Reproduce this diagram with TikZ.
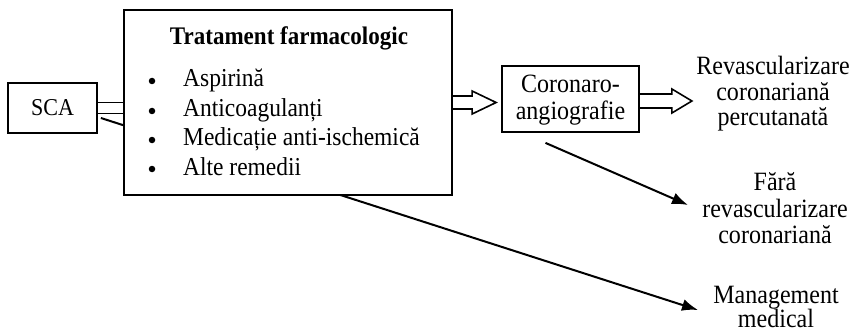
\documentclass[tikz,border=0pt]{standalone}
\usepackage{fontspec}
\setmainfont{Liberation Serif}[FakeStretch=0.91]
\usetikzlibrary{arrows.meta,calc}
\newcommand\hollowarrow[5]{%
  \path let \p1=(#1), \p2=(#2) in
    [draw, line width=1.6pt, line join=miter]
    (\x1,\y1+#3pt) -- (\x2-#4pt,\y1+#3pt) -- (\x2-#4pt,\y1+#5pt) -- (\x2,\y1)
    -- (\x2-#4pt,\y1-#5pt) -- (\x2-#4pt,\y1-#3pt) -- (\x1,\y1-#3pt);%
}
\begin{document}
\begin{tikzpicture}[x=1pt,y=-1pt,
  box/.style={draw, line width=1.8pt, inner sep=0pt},
  txt/.style={font=\fontsize{26.4}{27}\selectfont, anchor=base, inner sep=0pt},
  item/.style={font=\fontsize{25.8}{27}\selectfont, anchor=base west, inner sep=0pt},
  bul/.style={circle, fill=black, minimum size=6.5pt, inner sep=0pt},
  conn/.style={line width=2pt, -{Latex[length=16pt,width=12pt]}}
]
\useasboundingbox (0,0) rectangle (856,334);

% SCA
\node[box, minimum width=89pt, minimum height=50pt, font=\fontsize{24.2}{26}\selectfont] (sca) at (52.5,108) {SCA};

% right-hand labels
\node[txt] (rev1) at (773,75) {Revascularizare};
\node[txt] (rev2) at (773,101) {coronariană};
\node[txt] (rev3) at (773,125) {percutanată};
\node[txt] (f1) at (775,190) {Fără};
\node[txt] (f2) at (775,217) {revascularizare};
\node[txt] (f3) at (775,243) {coronariană};
\node[txt] (m1) at (776,303) {Management};
\node[txt] (m2) at (776,327) {medical};

% arrow SCA -> Management medical (passes behind main box)
\coordinate (sstart) at ($(sca.east)+(3,10)$);
\coordinate (tman) at (698,310);
\draw[conn] (sstart) -- (tman);

% main box
\node[box, fill=white, minimum width=328pt, minimum height=185pt] (main) at (288,102.5) {};
\node[txt, font=\bfseries\fontsize{25.3}{27}\selectfont] (title) at (289,45) {Tratament farmacologic};
\node[bul] (b1) at (152,81) {};
\node[bul] (b2) at (152,111) {};
\node[bul] (b3) at (152,140) {};
\node[bul] (b4) at (152,169) {};
\node[item] (i1) at (183,87) {Aspirină};
\node[item] (i2) at (183,117) {Anticoagulanți};
\node[item] (i3) at (183,146) {Medicație anti-ischemică};
\node[item] (i4) at (183,175) {Alte remedii};

% double line SCA -> main
\draw[line width=1.6pt] ($(sca.east)+(0,-5.5)$) -- ($(sca.east -| main.west)+(0,-5.5)$);
\draw[line width=1.6pt] ($(sca.east)+(0,5.5)$) -- ($(sca.east -| main.west)+(0,5.5)$);

% Coronaro-angiografie box
\node[box, minimum width=137pt, minimum height=66pt] (cor) at (570.5,99) {};
\node[txt] (c1) at (570.5,93) {Coronaro-};
\node[txt] (c2) at (570.5,120) {angiografie};

% hollow arrows
\coordinate (tip1) at ($(cor.west)+(-5,0)$);
\hollowarrow{main.east}{tip1}{6.5}{24}{11.5}
\coordinate (cstart) at ($(cor.east)+(0,2)$);
\coordinate (tip2) at ($(cstart)+(52,0)$);
\hollowarrow{cstart}{tip2}{7}{20}{12}

% arrow Coronaro -> Fara revascularizare
\coordinate (corstart) at ($(cor.south)+(-25,10)$);
\coordinate (tfara) at (688,205);
\draw[conn] (corstart) -- (tfara);
\end{tikzpicture}
\end{document}
